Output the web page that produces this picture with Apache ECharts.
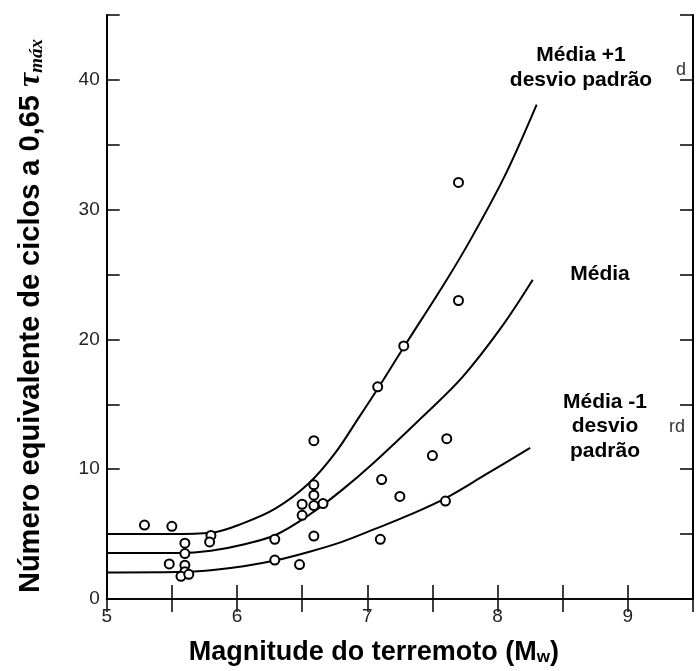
<!DOCTYPE html>
<html>
<head>
<meta charset="utf-8">
<script src="https://cdn.jsdelivr.net/npm/echarts@6/dist/echarts.min.js"></script>
<style>
  html, body { margin: 0; padding: 0; background: #fff; }
  #chart { width: 696px; height: 671px; }
</style>
</head>
<body>
<div id="chart"></div>
<script>
// Observed events: earthquake magnitude (Mw) vs. equivalent number of cycles
const pointMw     = [5.29, 5.50, 5.48, 5.60, 5.60, 5.60, 5.60, 5.57, 5.63, 5.80, 5.79, 6.29, 6.29, 6.48,
                     6.50, 6.50, 6.59, 6.59, 6.59, 6.59, 6.66, 6.59, 7.08, 7.28, 7.11, 7.10, 7.25, 7.50,
                     7.61, 7.60, 7.70, 7.70];
const pointCycles = [5.7, 5.6, 2.7, 4.3, 3.5, 2.6, 2.1, 1.75, 1.9, 4.9, 4.4, 4.6, 3.0, 2.65,
                     7.3, 6.45, 12.2, 8.8, 8.0, 7.2, 7.35, 4.85, 16.35, 19.5, 9.2, 4.6, 7.9, 11.05,
                     12.35, 7.55, 32.1, 23.0];

// Mean + 1 standard deviation
const upperMw = [5.0, 5.5, 5.8, 6.05, 6.3, 6.55, 6.75, 6.93, 7.08, 7.28, 7.61, 7.81, 8.06, 8.30];
const upperN  = [5.0, 5.0, 5.1, 5.85, 7.0, 8.9, 11.2, 13.9, 16.2, 19.4, 24.6, 28.0, 32.7, 38.1];

// Mean
const meanMw = [5.0, 5.55, 5.8, 6.05, 6.3, 6.55, 6.8, 7.05, 7.43, 7.73, 8.03, 8.27];
const meanN  = [3.55, 3.55, 3.72, 4.2, 4.95, 6.45, 8.35, 10.5, 14.1, 17.1, 20.95, 24.6];

// Mean - 1 standard deviation
const lowerMw = [5.0, 5.55, 5.8, 6.05, 6.3, 6.55, 6.8, 7.06, 7.31, 7.61, 7.91, 8.25];
const lowerN  = [2.05, 2.08, 2.22, 2.52, 2.98, 3.62, 4.38, 5.4, 6.42, 7.82, 9.6, 11.64];

const xMin = 5, xMax = 9.5, xStep = 0.5;
const yMin = 0, yMax = 45, yStep = 5;

const pair = (xs, ys) => xs.map((x, i) => [x, ys[i]]);

const sans = '"Liberation Sans", Arial, Helvetica, sans-serif';
const serif = '"Liberation Serif", "Times New Roman", serif';

const tickStyle = { color: '#000', width: 1.5 };
const lineAxis = { show: true, lineStyle: { color: '#000', width: 2 } };

const curve = (name, xs, ys) => ({
  name, type: 'line', data: pair(xs, ys),
  smooth: 0.35, showSymbol: false,
  lineStyle: { color: '#000', width: 2 }, z: 2
});

const chart = echarts.init(document.getElementById('chart'), null, { renderer: 'canvas' });

chart.setOption({
  backgroundColor: '#fff',
  animation: false,
  grid: { left: 106.7, right: -8.5, top: 15, bottom: 67, containLabel: false },
  xAxis: [
    {
      type: 'value', min: xMin, max: xMax, interval: xStep, position: 'bottom',
      axisLine: lineAxis,
      axisTick: { inside: true, length: 14, lineStyle: tickStyle },
      axisLabel: {
        margin: 8, fontSize: 19, color: '#222', fontFamily: sans,
        formatter: v => (Math.abs(v % 1) < 1e-9 ? String(v) : '')
      },
      splitLine: { show: false },
      name: '{b|Magnitude do terremoto (M}{sub|w}{b|)}',
      nameLocation: 'middle', nameGap: 40,
      nameTextStyle: {
        fontSize: 27, fontWeight: 'bold', color: '#000', fontFamily: sans,
        padding: [0, 52, 0, 0],
        rich: {
          b: { fontSize: 27, fontWeight: 'bold', fontFamily: sans, color: '#000' },
          sub: { fontSize: 17, fontWeight: 'bold', fontFamily: sans, color: '#000', verticalAlign: 'bottom', padding: [10, 0, 0, 0] }
        }
      }
    },
    {
      type: 'value', min: xMin, max: xMax, interval: xStep, position: 'top',
      axisLine: { show: true, lineStyle: { color: '#111', width: 1.5 } },
      axisTick: { inside: true, length: 13, lineStyle: tickStyle },
      axisLabel: { show: false },
      splitLine: { show: false }
    }
  ],
  yAxis: [
    {
      type: 'value', min: yMin, max: yMax, interval: yStep, position: 'left',
      axisLine: lineAxis,
      axisTick: { inside: true, length: 13, lineStyle: tickStyle },
      axisLabel: {
        margin: 7, fontSize: 19, color: '#222', fontFamily: sans,
        formatter: v => (v % 10 === 0 ? String(v) : '')
      },
      splitLine: { show: false },
      name: '{b|Número equivalente de ciclos a 0,65 }{tau|τ}{sub|máx}',
      nameLocation: 'middle', nameRotate: 90, nameGap: 60,
      nameTextStyle: {
        fontSize: 29, fontWeight: 'bold', color: '#000', fontFamily: sans,
        padding: [0, 18, 0, 0],
        rich: {
          b: { fontSize: 29, fontWeight: 'bold', fontFamily: sans, color: '#000' },
          tau: { fontSize: 32, fontWeight: 'bold', fontStyle: 'italic', fontFamily: serif, color: '#000' },
          sub: { fontSize: 19, fontWeight: 'bold', fontStyle: 'italic', fontFamily: serif, color: '#000', verticalAlign: 'bottom', padding: [10, 0, 0, 0] }
        }
      }
    },
    {
      type: 'value', min: yMin, max: yMax, interval: yStep, position: 'right',
      axisLine: lineAxis,
      axisTick: { inside: true, length: 13, lineStyle: tickStyle },
      axisLabel: { show: false },
      splitLine: { show: false }
    }
  ],
  series: [
    curve('Média +1 desvio padrão', upperMw, upperN),
    curve('Média', meanMw, meanN),
    curve('Média -1 desvio padrão', lowerMw, lowerN),
    {
      name: 'Eventos', type: 'scatter', data: pair(pointMw, pointCycles),
      symbol: 'circle', symbolSize: 9,
      itemStyle: { color: '#fff', borderColor: '#000', borderWidth: 2, opacity: 1 },
      z: 3
    }
  ],
  graphic: [
    {
      type: 'text', x: 581, y: 67.5, z: 10,
      style: {
        text: 'Média +1\ndesvio padrão', fill: '#000', align: 'center', verticalAlign: 'middle',
        font: 'bold 21px ' + sans, lineHeight: 25
      }
    },
    {
      type: 'text', x: 600, y: 274, z: 10,
      style: {
        text: 'Média', fill: '#000', align: 'center', verticalAlign: 'middle',
        font: 'bold 21px ' + sans
      }
    },
    {
      type: 'text', x: 605, y: 426.5, z: 10,
      style: {
        text: 'Média -1\ndesvio\npadrão', fill: '#000', align: 'center', verticalAlign: 'middle',
        font: 'bold 21px ' + sans, lineHeight: 24.5
      }
    },
    {
      type: 'text', x: 681, y: 70, z: 10,
      style: { text: 'd', fill: '#333', align: 'center', verticalAlign: 'middle', font: '18px ' + sans }
    },
    {
      type: 'text', x: 677, y: 427, z: 10,
      style: { text: 'rd', fill: '#333', align: 'center', verticalAlign: 'middle', font: '18px ' + sans }
    }
  ]
});
</script>
</body>
</html>
